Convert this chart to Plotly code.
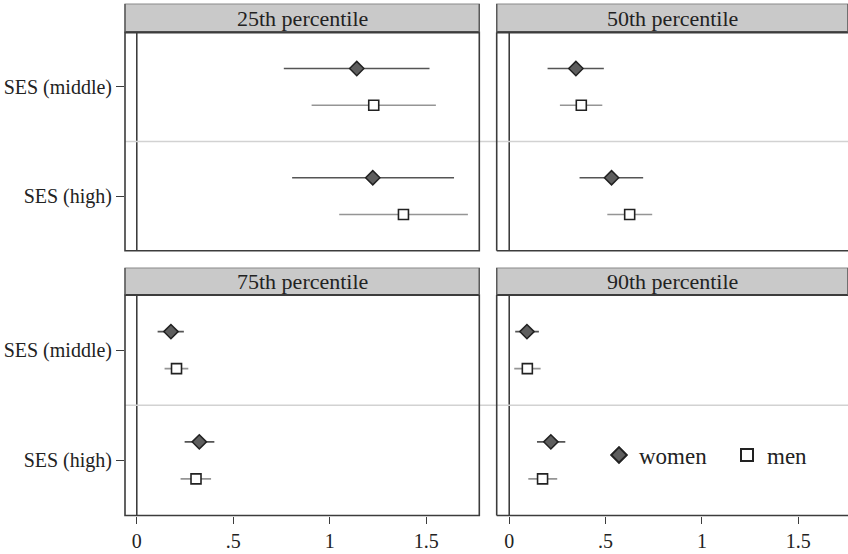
import plotly.graph_objects as go

# ---------------- data ----------------
panel_titles = ["25th percentile", "50th percentile", "75th percentile", "90th percentile"]
categories = ["SES (middle)", "SES (high)"]
x_tickvals = [0, 0.5, 1, 1.5]
x_ticktext = ["0", ".5", "1", "1.5"]

# per panel: [SES (middle), SES (high)]
women_est = [[1.14, 1.223], [0.346, 0.531], [0.177, 0.324], [0.092, 0.216]]
women_lo = [[0.762, 0.805], [0.199, 0.365], [0.108, 0.248], [0.031, 0.144]]
women_hi = [[1.517, 1.644], [0.491, 0.695], [0.244, 0.402], [0.154, 0.291]]

men_est = [[1.228, 1.382], [0.374, 0.625], [0.206, 0.307], [0.094, 0.173]]
men_lo = [[0.906, 1.049], [0.263, 0.509], [0.144, 0.227], [0.026, 0.099]]
men_hi = [[1.55, 1.716], [0.483, 0.742], [0.267, 0.385], [0.163, 0.249]]

# ---------------- layout geometry (pixels) ----------------
W, H = 848, 554
FONT = "Liberation Serif, Times New Roman, serif"
DARK = "#3c3c3c"

def fx(p):
    return p / W

def fy(p):
    return 1 - p / H

cols = [(125, 479.3), (496.7, 848)]
rows = [(32.3, 250.7), (295, 515.5)]
headers = [(4, 32.3), (268, 295)]
xranges = [[-0.061, 1.775], [-0.065, 1.758]]
offset = 0.168

fig = go.Figure()

for i in range(4):
    r, c = divmod(i, 2)
    ax = "" if i == 0 else str(i + 1)
    xa, ya = "x" + ax, "y" + ax
    ypos_w = [k + 1 - offset for k in range(len(categories))]
    ypos_m = [k + 1 + offset for k in range(len(categories))]
    fig.add_trace(go.Scatter(
        x=women_est[i], y=ypos_w, xaxis=xa, yaxis=ya, mode="markers",
        name="women", showlegend=(i == 0), legendrank=1,
        marker=dict(symbol="diamond", size=11, color="#5e5e5e",
                    line=dict(color="#222222", width=1.5)),
        error_x=dict(type="data", symmetric=False,
                     array=[h - e for h, e in zip(women_hi[i], women_est[i])],
                     arrayminus=[e - l for e, l in zip(women_est[i], women_lo[i])],
                     color="#555555", thickness=1.6, width=0),
    ))
    fig.add_trace(go.Scatter(
        x=men_est[i], y=ypos_m, xaxis=xa, yaxis=ya, mode="markers",
        name="men", showlegend=(i == 0), legendrank=2,
        marker=dict(symbol="square", size=10, color="white",
                    line=dict(color="#222222", width=1.6)),
        error_x=dict(type="data", symmetric=False,
                     array=[h - e for h, e in zip(men_hi[i], men_est[i])],
                     arrayminus=[e - l for e, l in zip(men_est[i], men_lo[i])],
                     color="#959595", thickness=1.6, width=0),
    ))

    x0, x1 = cols[c]
    y0, y1 = rows[r]
    xdom = [fx(x0), min(1.0, fx(x1))]
    ydom = [fy(y1), fy(y0)]
    fig.layout["xaxis" + ax] = dict(
        domain=xdom, range=xranges[c], anchor=ya,
        showgrid=False, zeroline=False, showline=False,
        tickvals=x_tickvals, ticktext=x_ticktext,
        showticklabels=(r == 1), ticks="outside" if r == 1 else "",
        ticklen=7, tickwidth=1.3, tickcolor=DARK,
        tickfont=dict(family=FONT, size=20, color="#222222"),
    )
    fig.layout["yaxis" + ax] = dict(
        domain=ydom, range=[2.5, 0.5], anchor=xa,
        showgrid=False, zeroline=False, showline=False,
        tickvals=[1, 2], ticktext=categories,
        showticklabels=(c == 0), ticks="outside" if c == 0 else "",
        ticklen=8, tickwidth=1.3, tickcolor=DARK,
        tickfont=dict(family=FONT, size=20, color="#222222"),
    )

    # zero reference line
    fig.add_shape(type="line", xref=xa, yref=ya + " domain", x0=0, x1=0, y0=0, y1=1,
                  line=dict(color=DARK, width=1.6), layer="below")
    # panel border
    if c == 0:
        fig.add_shape(type="rect", xref=xa + " domain", yref=ya + " domain",
                      x0=0, x1=1, y0=0, y1=1, line=dict(color=DARK, width=1.6))
    else:
        for (a0, a1, b0, b1) in [(0, 0, 0, 1), (0, 1, 0, 0), (0, 1, 1, 1)]:
            fig.add_shape(type="line", xref=xa + " domain", yref=ya + " domain",
                          x0=a0, x1=a1, y0=b0, y1=b1, line=dict(color=DARK, width=1.6))
    # header strip
    h0, h1 = headers[r]
    fig.add_shape(type="rect", xref="paper", yref="paper",
                  x0=xdom[0], x1=xdom[1], y0=fy(h1), y1=fy(h0),
                  fillcolor="#c9c9c9", line=dict(color="#8a8a8a", width=1.2), layer="below")
    fig.add_shape(type="line", xref="paper", yref="paper",
                  x0=xdom[0], x1=xdom[1], y0=fy(h1), y1=fy(h1),
                  line=dict(color=DARK, width=2.2))
    for xe in xdom:
        fig.add_shape(type="line", xref="paper", yref="paper",
                      x0=xe, x1=xe, y0=fy(h1), y1=fy(h0),
                      line=dict(color="#5a5a5a", width=1.4))
    fig.add_annotation(text=panel_titles[i], xref="paper", yref="paper",
                       x=(xdom[0] + xdom[1]) / 2, y=(fy(h0) + fy(h1)) / 2,
                       showarrow=False, xanchor="center", yanchor="middle",
                       font=dict(family=FONT, size=22, color="#222222"))

# separators between categories (span across both panels)
for r in range(2):
    ya = "y" if r == 0 else "y3"
    fig.add_shape(type="line", xref="paper", yref=ya, x0=fx(cols[0][0]), x1=1.0,
                  y0=1.5, y1=1.5, line=dict(color="#d2d2d2", width=1.6), layer="below")

fig.update_layout(
    width=W, height=H,
    margin=dict(l=0, r=0, t=0, b=0, autoexpand=False),
    paper_bgcolor="white", plot_bgcolor="white",
    font=dict(family=FONT, size=20, color="#222222"),
    showlegend=True,
    legend=dict(orientation="h", x=fx(599), y=fy(455), xanchor="left", yanchor="middle",
                bgcolor="rgba(0,0,0,0)", font=dict(family=FONT, size=23, color="#222222"),
                entrywidth=83, itemsizing="constant"),
)

fig.write_html("out.html")
